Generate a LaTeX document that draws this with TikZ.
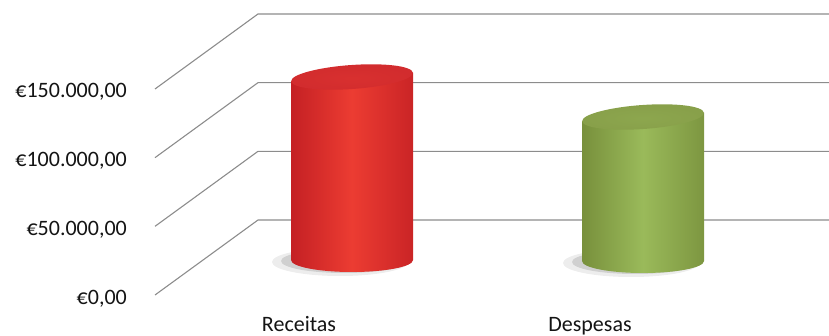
\documentclass[tikz,border=0pt]{standalone}
\usepackage{fontspec}
\setmainfont{Carlito}
\usepackage{xcolor}
\definecolor{redmid}{RGB}{236,60,50}
\definecolor{redside}{RGB}{196,32,36}
\definecolor{redtop}{RGB}{210,44,46}
\definecolor{greenmid}{RGB}{154,186,90}
\definecolor{greenside}{RGB}{120,144,60}
\definecolor{greentop}{RGB}{136,160,74}
\tikzstyle{grid} = [draw=black!45, line width=1.1pt]
\tikzstyle{axislabel} = [anchor=base east, inner sep=0pt, text=black!92, font=\fontsize{22}{26}\selectfont]
\tikzstyle{catlabel} = [anchor=base, inner sep=0pt, text=black!92, font=\fontsize{22}{26}\selectfont]
\newcommand{\barcyl}[6]{%
  \fill[black, opacity=0.07] (#1-12,#3+2) ellipse[x radius=68, y radius=14];
  \fill[black, opacity=0.12] (#1-8,#3+1) ellipse[x radius=63, y radius=12];
  \shade[left color=#5, right color=#5!85!#4, middle color=#4] (#1-61,#2+4.3) -- (#1-61,#3) arc[start angle=180, end angle=0, x radius=61, y radius=12] -- (#1+61,#2-4.3) -- cycle;
  \shade[inner color=#6!75!#4, outer color=#6, rotate around={4:(#1,#2)}] (#1,#2) ellipse[x radius=61, y radius=12];
}
\begin{document}
\begin{tikzpicture}[x=1pt, y=-1pt]
   \useasboundingbox (0,0) rectangle (829,336);
   \foreach \k in {0,...,3}
      \draw[grid] (155,295-68.67*\k) -- (258,220-68.67*\k) -- (829,220-68.67*\k);
   \node (l0) [axislabel] at (127,304.5) {€0,00};
   \node (l50) [axislabel] at (127,236) {€50.000,00};
   \node (l100) [axislabel] at (127,167) {€100.000,00};
   \node (l150) [axislabel] at (127,98) {€150.000,00};
   \barcyl{352}{77}{260}{redmid}{redside}{redtop}
   \barcyl{643}{117}{261}{greenmid}{greenside}{greentop}
   \node (rec) [catlabel] at (299,331) {Receitas};
   \node (des) [catlabel] at (590,331) {Despesas};
\end{tikzpicture}
\end{document}
